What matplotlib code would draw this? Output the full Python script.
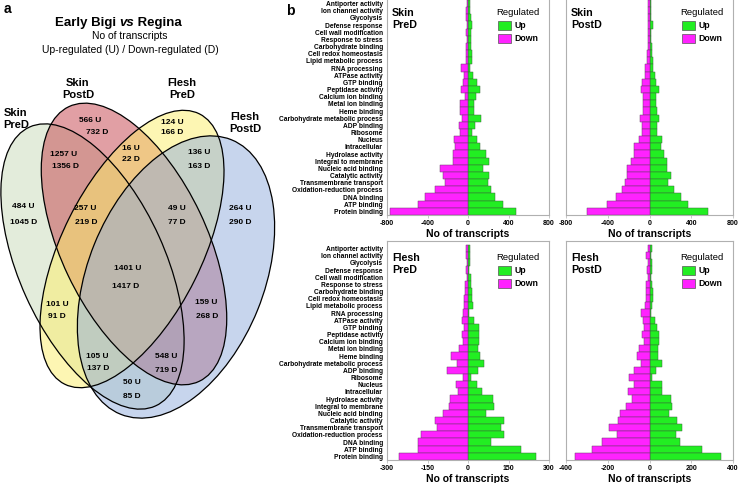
import numpy as np
import matplotlib
matplotlib.use('Agg')
import matplotlib.pyplot as plt
from matplotlib.patches import Ellipse, Patch

plt.rcParams['font.family'] = ['Liberation Sans', 'DejaVu Sans']
plt.rcParams['axes.unicode_minus'] = False

W, H = 741, 483

# ---------------- data: Venn (a) ----------------
set_names = ['Skin\nPreD', 'Skin\nPostD', 'Flesh\nPreD', 'Flesh\nPostD']
region_names = ['SkinPreD', 'SkinPostD', 'FleshPreD', 'FleshPostD',
                'SkinPreD+SkinPostD', 'SkinPostD+FleshPreD', 'FleshPreD+FleshPostD',
                'SkinPreD+SkinPostD+FleshPreD', 'SkinPostD+FleshPreD+FleshPostD', 'All',
                'SkinPreD+FleshPreD', 'SkinPostD+FleshPostD',
                'SkinPreD+FleshPreD+FleshPostD', 'SkinPreD+SkinPostD+FleshPostD',
                'SkinPreD+FleshPostD']
up_counts = [484, 566, 124, 264, 1257, 16, 136, 257, 49, 1401, 101, 159, 105, 548, 50]
down_counts = [1045, 732, 166, 290, 1356, 22, 163, 219, 77, 1417, 91, 268, 137, 719, 85]

# ---------------- data: bar charts (b) ----------------
categories = ['Antiporter activity', 'Ion channel activity', 'Glycolysis',
              'Defense response', 'Cell wall modification', 'Response to stress',
              'Carbohydrate binding', 'Cell redox homeostasis', 'Lipid metabolic process',
              'RNA processing', 'ATPase activity', 'GTP binding', 'Peptidase activity',
              'Calcium ion binding', 'Metal ion binding', 'Heme binding',
              'Carbohydrate metabolic process', 'ADP binding', 'Ribosome', 'Nucleus',
              'Intracellular', 'Hydrolase activity', 'Integral to membrane',
              'Nucleic acid binding', 'Catalytic activity', 'Transmembrane transport',
              'Oxidation-reduction process', 'DNA binding', 'ATP binding',
              'Protein binding']

skin_pre_up = [20, 23, 27, 43, 27, 33, 33, 40, 43, 17, 53, 93, 117, 83, 60, 60,
               133, 73, 43, 93, 123, 177, 207, 153, 207, 200, 227, 267, 350, 470]
skin_pre_down = [13, 17, 17, 13, 17, 10, 20, 17, 23, 73, 40, 47, 67, 33, 80, 80,
                 60, 93, 83, 143, 133, 150, 150, 280, 250, 230, 330, 420, 495, 770]

skin_post_up = [13, 19, 19, 38, 16, 19, 26, 26, 32, 38, 51, 64, 90, 64, 64, 70,
                90, 70, 70, 118, 109, 141, 166, 166, 205, 176, 230, 300, 368, 560]
skin_post_down = [10, 13, 13, 16, 13, 19, 19, 26, 26, 45, 45, 70, 80, 58, 64, 64,
                  90, 74, 74, 96, 147, 147, 176, 211, 211, 234, 266, 320, 410, 602]

flesh_pre_up = [6, 6, 6, 4, 10, 10, 15, 15, 18, 3, 24, 40, 40, 40, 37, 43,
                59, 37, 12, 34, 51, 92, 98, 67, 132, 122, 132, 85, 198, 250]
flesh_pre_down = [8, 8, 5, 6, 4, 12, 12, 15, 15, 18, 22, 15, 21, 18, 34, 63,
                  39, 76, 18, 43, 37, 67, 70, 92, 122, 116, 173, 185, 185, 254]

flesh_post_up = [13, 6, 10, 13, 6, 13, 19, 19, 10, 8, 26, 37, 45, 45, 42, 42,
                 61, 32, 10, 61, 61, 101, 106, 93, 133, 157, 128, 144, 250, 341]
flesh_post_down = [8, 16, 6, 10, 6, 16, 16, 16, 22, 43, 32, 26, 35, 27, 48, 59,
                   43, 75, 99, 75, 102, 86, 112, 139, 150, 192, 155, 227, 275, 358]

# ---------------- colours ----------------
UP = '#22ee22'
DOWN = '#ff22ff'
SPINE = '#b0b0b0'
VENN_FILL = ['#c9dbb9', '#c5414b', '#fdef69', '#91addd']


def fx(px):
    return px / W


def fy(py):
    return 1 - py / H


fig = plt.figure(figsize=(W / 100, H / 100), dpi=100, facecolor='white')

# ================= a: Venn =================
# ellipse geometry in pixel units (y down): centre, semi-axes, tilt
ell_cx = [92.5, 134, 132, 176]
ell_cy = [266.5, 244, 249, 277]
ell_a = [153, 152, 151, 148]
ell_b = [73, 73, 70, 88]
ell_rot = [65.7, 64.6, -63.5, -68]

ax_v = fig.add_axes([0, fy(483), 300 / W, (483 - 60) / H])
ax_v.set_xlim(0, 300)
ax_v.set_ylim(483, 60)
ax_v.axis('off')

for i in range(4):
    ax_v.add_patch(Ellipse((ell_cx[i], ell_cy[i]), 2 * ell_a[i], 2 * ell_b[i],
                           angle=ell_rot[i], facecolor=VENN_FILL[i], alpha=0.5,
                           edgecolor='none'))
for i in range(4):
    ax_v.add_patch(Ellipse((ell_cx[i], ell_cy[i]), 2 * ell_a[i], 2 * ell_b[i],
                           angle=ell_rot[i], fill=False, edgecolor='black', lw=0.9))

# label positions (pixels)
u_pos = [(23, 206), (90, 120), (172, 122), (240, 209), (64, 155), (131, 148),
         (199, 153), (85, 208), (177, 208), (128, 268), (57, 304), (206, 302),
         (97, 356), (166, 357), (132, 383)]
d_pos = [(24, 222), (97, 133), (172, 133), (240, 223), (65, 166), (131, 159),
         (199, 166), (86, 223), (177, 223), (126, 286), (57, 317), (207, 317),
         (98, 368), (166, 370), (132, 397)]
for i in range(len(region_names)):
    fig.text(fx(u_pos[i][0]), fy(u_pos[i][1]), f'{up_counts[i]} U', ha='center',
             va='center', fontsize=6, fontweight='bold')
    fig.text(fx(d_pos[i][0]), fy(d_pos[i][1]), f'{down_counts[i]} D', ha='center',
             va='center', fontsize=6, fontweight='bold')

set_pos = [(16, 119), (78, 89), (182, 89), (245, 123)]
for name, (px, py) in zip(set_names, set_pos):
    fig.text(fx(px), fy(py), name, ha='center', va='center', fontsize=8,
             fontweight='bold', linespacing=1.2)

# title
t_vs = fig.text(fx(127), fy(23), 'vs', ha='center', va='center', fontsize=9.5,
                fontweight='bold', style='italic')
ax_v.annotate('Early Bigi ', xy=(0, 0), xycoords=t_vs, ha='right', va='bottom',
              fontsize=9.5, fontweight='bold', annotation_clip=False)
ax_v.annotate(' Regina', xy=(1, 0), xycoords=t_vs, ha='left', va='bottom',
              fontsize=9.5, fontweight='bold', annotation_clip=False)
fig.text(fx(130), fy(36), 'No of transcripts', ha='center', va='center', fontsize=7.5)
fig.text(fx(130), fy(50), 'Up-regulated (U) / Down-regulated (D)', ha='center',
         va='center', fontsize=7.5)

fig.text(fx(7), fy(9), 'a', ha='center', va='center', fontsize=10, fontweight='bold')
fig.text(fx(290), fy(11), 'b', ha='center', va='center', fontsize=10, fontweight='bold')

# ================= b: bar charts =================
panels = [
    ('Skin\nPreD', skin_pre_up, skin_pre_down, 800, [-800, -400, 0, 400, 800], 387, 162, 215, True),
    ('Skin\nPostD', skin_post_up, skin_post_down, 800, [-800, -400, 0, 400, 800], 566, 167, 215, False),
    ('Flesh\nPreD', flesh_pre_up, flesh_pre_down, 300, [-300, -150, 0, 150, 300], 387, 162, 460, True),
    ('Flesh\nPostD', flesh_post_up, flesh_post_down, 400, [-400, -200, 0, 200, 400], 566, 167, 460, False),
]

y = np.arange(len(categories))
for title, up, down, lim, ticks, left, width, bottom, show_labels in panels:
    ax = fig.add_axes([fx(left), fy(bottom), width / W, 219 / H])
    ax.barh(y, up, height=1.0, color=UP, edgecolor='#3a6a3a', linewidth=0.35, zorder=2)
    ax.barh(y, -np.array(down), height=1.0, color=DOWN, edgecolor='#6a3a6a',
            linewidth=0.35, zorder=2)
    ax.set_xlim(-lim, lim)
    ax.set_ylim(len(categories) - 0.5, -1.05)
    ax.set_xticks(ticks)
    ax.set_xticklabels([str(t) for t in ticks], fontsize=5, fontweight='bold')
    ax.tick_params(axis='x', length=2, width=0.5, color=SPINE, pad=1.5)
    ax.set_yticks(y)
    if show_labels:
        ax.set_yticklabels(categories, fontsize=4.8, fontweight='bold')
    else:
        ax.set_yticklabels([])
    ax.tick_params(axis='y', length=0, pad=3)
    for s in ax.spines.values():
        s.set_color(SPINE)
        s.set_linewidth(0.8)
    ax.set_xlabel('No of transcripts', fontsize=7.5, fontweight='bold', labelpad=1.5)
    ax.text(0.03, 0.945, title, transform=ax.transAxes, ha='left', va='top',
            fontsize=7.7, fontweight='bold', linespacing=1.3)
    handles = [Patch(facecolor=UP, edgecolor='#555555', linewidth=0.5, label='Up'),
               Patch(facecolor=DOWN, edgecolor='#555555', linewidth=0.5, label='Down')]
    ax.legend(handles=handles, title='Regulated', loc='upper right',
              bbox_to_anchor=(0.985, 0.975), frameon=False,
              prop={'size': 6.3, 'weight': 'bold'}, title_fontsize=6.8,
              handlelength=1.5, handleheight=1.2, handletextpad=0.4,
              labelspacing=0.4, borderpad=0.5, borderaxespad=0.3)

fig.savefig('out.png', dpi=100, facecolor='white')
